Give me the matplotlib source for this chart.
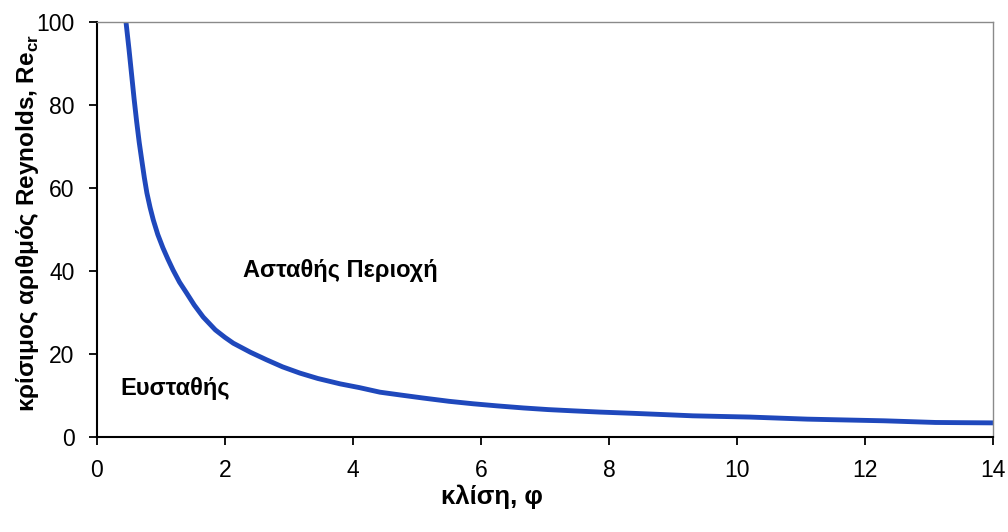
"""Critical Reynolds number vs inclination (stability boundary)."""

import matplotlib

matplotlib.use("Agg")
import matplotlib.pyplot as plt

# values
phi = [0.45, 0.50, 0.54, 0.58, 0.62, 0.66, 0.70, 0.74, 0.78, 0.83, 0.88, 0.95,
       1.03, 1.11, 1.19, 1.29, 1.40, 1.52, 1.66, 1.85, 2.00, 2.13, 2.40, 2.65,
       2.90, 3.17, 3.45, 3.80, 4.10, 4.42, 4.75, 5.09, 5.50, 5.88, 6.25, 6.66,
       7.05, 7.44, 7.86, 8.38, 8.85, 9.31, 9.75, 10.2, 10.65, 11.1, 11.7, 12.3,
       12.7, 13.1, 13.5, 14.0]
re_cr = [100.5, 93.5, 87.5, 81.5, 76.0, 71.0, 66.7, 62.5, 58.8, 55.3, 52.3, 48.8,
         45.6, 42.8, 40.2, 37.3, 34.7, 31.8, 28.9, 25.8, 24.0, 22.6, 20.4, 18.6,
         16.9, 15.4, 14.1, 12.8, 11.9, 10.8, 10.1, 9.4, 8.6, 8.0, 7.5, 7.0,
         6.6, 6.3, 6.0, 5.7, 5.4, 5.1, 4.95, 4.8, 4.55, 4.3, 4.1, 3.9,
         3.7, 3.5, 3.45, 3.4]

x_ticks = [0, 2, 4, 6, 8, 10, 12, 14]
y_ticks = [0, 20, 40, 60, 80, 100]

plt.rcParams["font.family"] = ["Liberation Sans", "DejaVu Sans"]
plt.rcParams["mathtext.fontset"] = "custom"
plt.rcParams["mathtext.rm"] = "Liberation Sans"
plt.rcParams["mathtext.bf"] = "Liberation Sans:bold"

fig = plt.figure(figsize=(10.08, 5.32), dpi=100)
ax = fig.add_axes([0.0962, 0.1786, 0.8889, 0.78])

ax.plot(phi, re_cr, color="#1F48BC", linewidth=3.5, solid_capstyle="butt",
        solid_joinstyle="round")

ax.set_xlim(0, 14)
ax.set_ylim(0, 100)
ax.set_xticks(x_ticks)
ax.set_yticks(y_ticks)
ax.tick_params(axis="both", direction="out", length=6, width=1.3,
               labelsize=16.5, pad=10, color="black")

for side in ("left", "bottom"):
    ax.spines[side].set_color("black")
    ax.spines[side].set_linewidth(1.5)
for side in ("top", "right"):
    ax.spines[side].set_color("#8a8a8a")
    ax.spines[side].set_linewidth(1.0)

ax.set_xlabel("κλίση, φ", fontsize=18.5, fontweight="bold", va="center")
ax.xaxis.set_label_coords(0.441, -0.145)
ax.set_ylabel(r"κρίσιμος αριθμός Reynolds, Re$_{\mathbf{cr}}$",
              fontsize=17.5, fontweight="bold", va="center")
ax.yaxis.set_label_coords(-0.078, 0.516)

ax.text(2.28, 40.2, "Ασταθής Περιοχή", fontsize=17, fontweight="bold",
        va="center", ha="left")
ax.text(0.36, 11.6, "Ευσταθής", fontsize=17, fontweight="bold",
        va="center", ha="left")

fig.savefig("out.png", dpi=100)
plt.close(fig)
